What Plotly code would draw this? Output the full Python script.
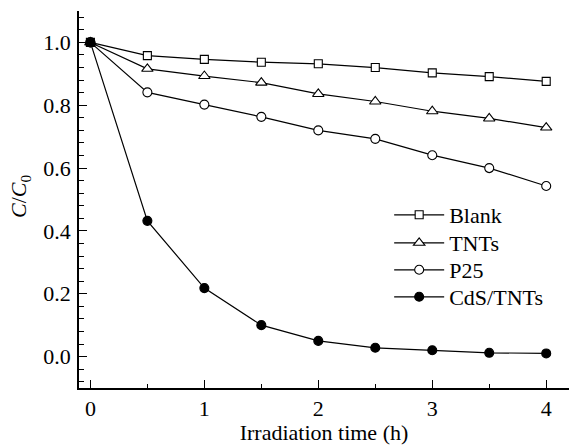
import plotly.graph_objects as go

time_h = [0, 0.5, 1, 1.5, 2, 2.5, 3, 3.5, 4]
blank = [1.0, 0.958, 0.946, 0.937, 0.932, 0.92, 0.903, 0.891, 0.876]
tnts = [1.0, 0.916, 0.893, 0.872, 0.836, 0.812, 0.781, 0.758, 0.729]
p25 = [1.0, 0.841, 0.802, 0.763, 0.72, 0.693, 0.641, 0.6, 0.543]
cds_tnts = [1.0, 0.432, 0.218, 0.1, 0.05, 0.028, 0.02, 0.012, 0.01]

series = [
    ("Blank", blank, "square", 8, "white", "legend", 0.5146),
    ("TNTs", tnts, "triangle-up", 10, "white", "legend2", 0.4403),
    ("P25", p25, "circle", 9, "white", "legend3", 0.3687),
    ("CdS/TNTs", cds_tnts, "circle", 9, "black", "legend4", 0.2971),
]

FONT = "Liberation Serif, Times New Roman, serif"
FS = 22

fig = go.Figure()
for name, vals, sym, sz, fill, lg, _ in series:
    fig.add_trace(go.Scatter(
        x=time_h, y=vals, name=name, mode="lines+markers", legend=lg,
        line=dict(color="black", width=1.2),
        marker=dict(symbol=sym, size=sz, color=fill,
                    line=dict(color="black", width=1.1)),
    ))

legends = {}
for name, vals, sym, sz, fill, lg, ly in series:
    legends[lg] = dict(x=0.633, y=ly, xanchor="left", yanchor="top",
                       bgcolor="rgba(0,0,0,0)",
                       font=dict(size=FS, family=FONT, color="black"),
                       itemwidth=50)

fig.update_layout(
    width=569, height=445,
    margin=dict(l=79, r=0, t=11, b=57),
    paper_bgcolor="white", plot_bgcolor="white",
    font=dict(family=FONT, size=FS, color="black"),
    showlegend=True,
    **legends,
    xaxis=dict(range=[-0.1, 4.2], tickmode="linear", tick0=0, dtick=1, automargin=False,
               ticks="inside", ticklen=8, tickwidth=1, tickcolor="black",
               minor=dict(ticks="inside", dtick=0.5, tick0=0, ticklen=4, tickcolor="black"),
               showline=True, linecolor="black", linewidth=1.5,
               showgrid=False, zeroline=False,
               title=dict(text="Irradiation time (h)", standoff=0, font=dict(size=FS, color="black")),
               tickfont=dict(size=FS, color="black")),
    xaxis2=dict(range=[-0.1, 4.2], overlaying="x", side="top", tickmode="linear", automargin=False,
                tick0=0, dtick=0.5, ticks="inside", ticklen=2, tickcolor="#555",
                showticklabels=False, showline=True, linecolor="#777", linewidth=1,
                showgrid=False, zeroline=False),
    yaxis=dict(range=[-0.1, 1.1], tickmode="linear", tick0=0, dtick=0.2, tickformat=".1f",
               automargin=False, ticklabelstandoff=2,
               ticks="inside", ticklen=8, tickwidth=1, tickcolor="black",
               minor=dict(ticks="inside", dtick=0.04, tick0=0, ticklen=5, tickcolor="black"),
               showline=True, linecolor="black", linewidth=1.5,
               showgrid=False, zeroline=False,
               tickfont=dict(size=FS, color="black")),
    annotations=[dict(text="<i>C</i>/<i>C</i><sub>0</sub>", textangle=-90,
                      xref="paper", yref="paper", x=(20 - 79) / 490, y=(388 - 196) / 377,
                      xanchor="center", yanchor="middle", showarrow=False,
                      font=dict(size=FS, family=FONT, color="black"))],
)

fig.write_html("out.html", config={"displayModeBar": False},
               post_script="document.body.style.margin='0px';")
